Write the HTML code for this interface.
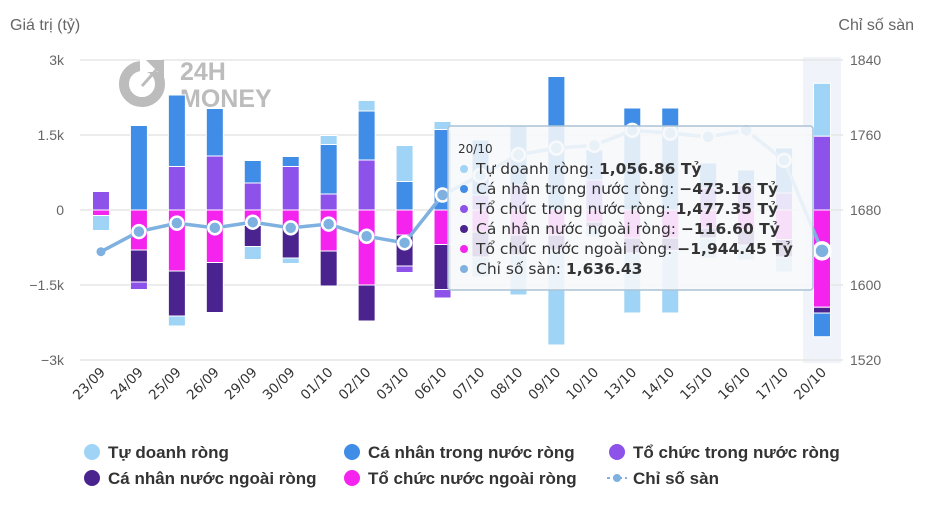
<!DOCTYPE html>
<html><head><meta charset="utf-8">
<style>
body{margin:0;background:#fff;width:934px;height:509px;overflow:hidden;font-family:"Liberation Sans",sans-serif}
svg{display:block}
</style></head>
<body>
<svg id="chart" width="934" height="509" xmlns="http://www.w3.org/2000/svg"></svg>
<script>
const categories=["23/09","24/09","25/09","26/09","29/09","30/09","01/10","02/10","03/10","06/10","07/10","08/10","09/10","10/10","13/10","14/10","15/10","16/10","17/10","20/10"];
const tuDoanh=[-300,-20,-200,0,-260,-110,180,210,720,160,-400,-800,-1900,-200,-1200,-1250,-400,-300,-300,1056.86];
const caNhanTN=[0,1690,1430,950,450,200,990,980,570,1610,1100,1200,2670,600,2040,2040,500,300,900,-473.16];
const toChucTN=[370,-150,870,1080,540,870,320,1000,-130,-170,300,500,0,600,0,0,440,500,340,1477.35];
const caNhanNN=[0,-640,-900,-1000,-420,-630,-700,-720,-620,-900,-500,-400,-300,-100,-300,-250,-200,-300,-350,-116.6];
const toChucNN=[-110,-800,-1220,-1050,-310,-330,-820,-1500,-500,-690,-440,-500,-500,-240,-560,-560,-360,-400,-590,-1944.45];
const chiSoSan=[1635.5,1657,1666,1661,1667,1661,1665,1652,1645,1696,1717,1739,1746,1749,1765,1762,1758,1765,1733,1636.43];
const leftTicks=[3000,1500,0,-1500,-3000];
const leftTickLabels=["3k","1.5k","0","−1.5k","−3k"];
const rightTicks=[1840,1760,1680,1600,1520];

const NS="http://www.w3.org/2000/svg";
const svg=document.getElementById('chart');
const X0=82,X1=841,Y0=60,Y1=360;
const step=(X1-X0)/categories.length;
const xc=i=>X0+step*(i+0.5);
const yL=v=>210-v*0.05;
const yR=v=>Y0+(1840-v)*(Y1-Y0)/320;
const DJ='"DejaVu Sans","Liberation Sans",sans-serif';
function el(tag,attrs,parent){const e=document.createElementNS(NS,tag);for(const k in attrs)e.setAttribute(k,attrs[k]);(parent||svg).appendChild(e);return e;}
function txt(s,attrs,parent){const e=el('text',attrs,parent);e.textContent=s;return e;}

let hb=el('rect',{x:X1-step,y:Y0-3,width:step,height:Y1-Y0+6,fill:'#f0f3fa'});



leftTicks.forEach((t,i)=>{
  let g=el('line',{x1:X0-2,x2:X1+2,y1:yL(t),y2:yL(t),stroke:'#e6e6e6','stroke-width':1.5});
  
  
  let l=txt(leftTickLabels[i],{x:64,y:yL(t)+5,'text-anchor':'end','font-size':14,fill:'#666'});
  
  
});
rightTicks.forEach(t=>{
  let l=txt(String(t),{x:850,y:yR(t)+5,'font-size':14,fill:'#666'});
  
  
});
let t1=txt('Giá trị (tỷ)',{x:10,y:30,'font-size':16,fill:'#666'});


let t2=txt('Chỉ số sàn',{x:914,y:30,'text-anchor':'end','font-size':16,fill:'#666'});



const logo=el('g',{opacity:0.9});


el('circle',{cx:142,cy:84,r:18,fill:'none',stroke:'#b5b5b5','stroke-width':10},logo);
el('rect',{x:140,y:56,width:22,height:16,fill:'#fff'},logo);
el('path',{d:'M146 60 L164 60 L164 78 Z',fill:'#b5b5b5'},logo);
el('line',{x1:142,y1:86,x2:158,y2:68,stroke:'#b5b5b5','stroke-width':3},logo);
txt('24H',{x:180,y:80,'font-size':25,'font-weight':'bold',fill:'#b5b5b5'},logo);
txt('MONEY',{x:180,y:107,'font-size':25,'font-weight':'bold',fill:'#b5b5b5'},logo);

const series=[
 {d:tuDoanh,c:'#9fd4f6',n:'bar-tu-doanh'},
 {d:caNhanTN,c:'#3f8de6',n:'bar-ca-nhan-trong-nuoc'},
 {d:toChucTN,c:'#8c52ea',n:'bar-to-chuc-trong-nuoc'},
 {d:caNhanNN,c:'#4a238f',n:'bar-ca-nhan-nuoc-ngoai'},
 {d:toChucNN,c:'#f424ee',n:'bar-to-chuc-nuoc-ngoai'}];
const bw=17;
categories.forEach((c,i)=>{
  let pos=0,neg=0;
  for(let s=series.length-1;s>=0;s--){
    const v=series[s].d[i];
    if(!v)continue;
    let a,b;
    if(v>0){a=pos;b=pos+v;pos=b;}else{a=neg;b=neg+v;neg=b;}
    const y1=yL(Math.max(a,b)),y2=yL(Math.min(a,b));
    const r=el('rect',{x:xc(i)-bw/2,y:y1,width:bw,height:Math.max(0,y2-y1),fill:series[s].c,stroke:'#fff','stroke-width':1});
    
    
  }
});

let d='';chiSoSan.forEach((v,i)=>{d+=(i?'L':'M')+xc(i)+' '+yR(v);});
let ln=el('path',{d:d,fill:'none',stroke:'#7eb1e0','stroke-width':3.5});


chiSoSan.forEach((v,i)=>{
  const last=i===chiSoSan.length-1;
  let p=el('circle',{cx:xc(i),cy:yR(v),r:i===0?4.5:(last?8:6.5),fill:'#7eb1e0',stroke:i===0?'none':'#fff','stroke-width':last?3.5:2.5});
  
  
});

categories.forEach((c,i)=>{
  let l=txt(c,{x:xc(i)+5,y:373,'text-anchor':'end','font-size':13.5,'font-family':DJ,fill:'#333',transform:`rotate(-45 ${xc(i)+5} 373)`});
  
  
});

const tt=el('g',{});


el('rect',{x:448,y:126,width:365,height:164,rx:3,fill:'rgba(247,248,250,0.88)',stroke:'#aac3d6','stroke-width':1.5},tt);
txt('20/10',{x:458,y:153,'font-size':12,'font-family':DJ,fill:'#333'},tt);
const rows=[['#9fd4f6','Tự doanh ròng: ','1,056.86 Tỷ'],['#3f8de6','Cá nhân trong nước ròng: ','−473.16 Tỷ'],['#8c52ea','Tổ chức trong nước ròng: ','1,477.35 Tỷ'],['#4a238f','Cá nhân nước ngoài ròng: ','−116.60 Tỷ'],['#f424ee','Tổ chức nước ngoài ròng: ','−1,944.45 Tỷ'],['#7eb1e0','Chỉ số sàn: ','1,636.43']];
rows.forEach((r,k)=>{
  const y=174+k*20;
  el('circle',{cx:464,cy:y-5,r:4,fill:r[0]},tt);
  const t=el('text',{x:476,y:y,'font-size':15.5,'font-family':DJ,fill:'#333'},tt);
  const a=document.createElementNS(NS,'tspan');a.textContent=r[1];t.appendChild(a);
  const b=document.createElementNS(NS,'tspan');b.textContent=r[2];b.setAttribute('font-weight','bold');t.appendChild(b);
});

const leg=[['#9fd4f6','Tự doanh ròng',92,452],['#3f8de6','Cá nhân trong nước ròng',352,452],['#8c52ea','Tổ chức trong nước ròng',617,452],['#4a238f','Cá nhân nước ngoài ròng',92,478],['#f424ee','Tổ chức nước ngoài ròng',352,478],['line','Chỉ số sàn',617,478]];
leg.forEach(l=>{
  const g=el('g',{});
  
  
  if(l[0]==='line'){
    el('line',{x1:l[2]-10,x2:l[2]+10,y1:l[3],y2:l[3],stroke:'#7eb1e0','stroke-width':2,'stroke-dasharray':'3 3'},g);
    el('circle',{cx:l[2],cy:l[3],r:4,fill:'#7eb1e0'},g);
  } else el('circle',{cx:l[2],cy:l[3],r:8,fill:l[0]},g);
  txt(l[1],{x:l[2]+16,y:l[3]+6,'font-size':17,'font-weight':'bold',fill:'#333'},g);
});
</script>
</body></html>
